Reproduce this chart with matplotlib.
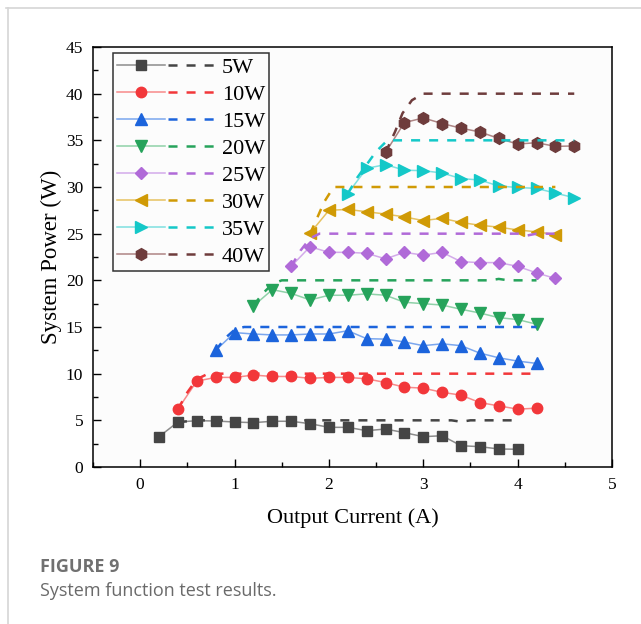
import matplotlib
matplotlib.use("Agg")
import matplotlib.pyplot as plt
from matplotlib.lines import Line2D
from matplotlib.legend_handler import HandlerTuple
from matplotlib.ticker import MultipleLocator

# measured system power (W) vs output current (A), one series per set point
labels = ["5W", "10W", "15W", "20W", "25W", "30W", "35W", "40W"]

p5_x = [0.2, 0.4, 0.6, 0.8, 1.0, 1.2, 1.4, 1.6, 1.8, 2.0, 2.2, 2.4, 2.6, 2.8, 3.0, 3.2, 3.4, 3.6, 3.8, 4.0]
p5_y = [3.25, 4.82, 4.96, 4.93, 4.82, 4.75, 4.9, 4.9, 4.64, 4.25, 4.25, 3.89, 4.07, 3.68, 3.25, 3.35, 2.28, 2.18, 1.93, 1.9]

p10_x = [0.4, 0.6, 0.8, 1.0, 1.2, 1.4, 1.6, 1.8, 2.0, 2.2, 2.4, 2.6, 2.8, 3.0, 3.2, 3.4, 3.6, 3.8, 4.0, 4.2]
p10_y = [6.2, 9.2, 9.6, 9.6, 9.85, 9.7, 9.7, 9.5, 9.6, 9.6, 9.45, 9.05, 8.55, 8.45, 8.0, 7.7, 6.9, 6.55, 6.2, 6.3]

p15_x = [0.8, 1.0, 1.2, 1.4, 1.6, 1.8, 2.0, 2.2, 2.4, 2.6, 2.8, 3.0, 3.2, 3.4, 3.6, 3.8, 4.0, 4.2]
p15_y = [12.5, 14.4, 14.25, 14.15, 14.15, 14.25, 14.25, 14.6, 13.75, 13.7, 13.4, 13.0, 13.2, 13.0, 12.2, 11.7, 11.35, 11.1]

p20_x = [1.2, 1.4, 1.6, 1.8, 2.0, 2.2, 2.4, 2.6, 2.8, 3.0, 3.2, 3.4, 3.6, 3.8, 4.0, 4.2]
p20_y = [17.25, 19.0, 18.6, 17.9, 18.4, 18.4, 18.55, 18.4, 17.65, 17.5, 17.35, 16.9, 16.5, 16.0, 15.8, 15.3]

p25_x = [1.6, 1.8, 2.0, 2.2, 2.4, 2.6, 2.8, 3.0, 3.2, 3.4, 3.6, 3.8, 4.0, 4.2, 4.4]
p25_y = [21.5, 23.6, 23.0, 23.0, 22.9, 22.3, 23.0, 22.7, 23.0, 22.0, 21.9, 21.9, 21.5, 20.8, 20.2]

p30_x = [1.8, 2.0, 2.2, 2.4, 2.6, 2.8, 3.0, 3.2, 3.4, 3.6, 3.8, 4.0, 4.2, 4.4]
p30_y = [25.05, 27.5, 27.6, 27.35, 27.1, 26.8, 26.4, 26.65, 26.2, 25.9, 25.7, 25.4, 25.2, 24.9]

p35_x = [2.2, 2.4, 2.6, 2.8, 3.0, 3.2, 3.4, 3.6, 3.8, 4.0, 4.2, 4.4, 4.6]
p35_y = [29.3, 32.0, 32.4, 31.8, 31.75, 31.5, 30.9, 30.75, 30.1, 29.95, 29.85, 29.35, 28.85]

p40_x = [2.6, 2.8, 3.0, 3.2, 3.4, 3.6, 3.8, 4.0, 4.2, 4.4, 4.6]
p40_y = [33.7, 36.9, 37.4, 36.8, 36.3, 35.9, 35.2, 34.6, 34.75, 34.35, 34.4]

# reference (set point) curves, dashed
r5_x = [0.4, 0.6, 3.3, 3.4, 3.5, 4.0]
r5_y = [4.8, 5.0, 5.0, 4.85, 5.0, 5.0]
r10_x = [0.4, 0.5, 0.6, 0.7, 0.8, 4.2]
r10_y = [6.2, 8.0, 9.4, 9.9, 10.0, 10.0]
r15_x = [0.8, 0.9, 1.0, 1.1, 4.2]
r15_y = [12.5, 13.8, 14.7, 15.0, 15.0]
r20_x = [1.2, 1.3, 1.4, 1.5, 3.7, 3.8, 3.9, 4.2]
r20_y = [17.3, 18.6, 19.6, 20.0, 20.0, 20.15, 20.0, 20.0]
r25_x = [1.6, 1.7, 1.8, 1.9, 4.0, 4.1, 4.2, 4.4]
r25_y = [21.5, 23.2, 24.5, 25.0, 25.0, 24.8, 25.0, 25.0]
r30_x = [1.8, 1.85, 1.95, 2.05, 4.4]
r30_y = [25.0, 26.1, 28.4, 30.0, 30.0]
r35_x = [2.2, 2.3, 2.5, 2.62, 4.6]
r35_y = [29.3, 31.0, 33.8, 35.0, 35.0]
r40_x = [2.6, 2.7, 2.78, 2.88, 3.0, 4.6]
r40_y = [33.7, 35.9, 37.9, 39.3, 40.0, 40.0]

meas_x = [p5_x, p10_x, p15_x, p20_x, p25_x, p30_x, p35_x, p40_x]
meas_y = [p5_y, p10_y, p15_y, p20_y, p25_y, p30_y, p35_y, p40_y]
ref_x = [r5_x, r10_x, r15_x, r20_x, r25_x, r30_x, r35_x, r40_x]
ref_y = [r5_y, r10_y, r15_y, r20_y, r25_y, r30_y, r35_y, r40_y]

colors = ["#454545", "#f2373a", "#1c64dc", "#26a35b", "#b06ad8", "#d09a05", "#14c8c8", "#6e3c3c"]
light = ["#8c8c8c", "#f88a8a", "#7aa6ee", "#8fd1a8", "#d3aaea", "#e6c260", "#7ee0e0", "#ae8585"]
markers = ["s", "o", "^", "v", "D", "<", ">", "h"]
msizes = [6.5, 7.5, 8, 8, 6.5, 8, 8, 8.5]

plt.rcParams['font.family'] = ['Liberation Serif', 'DejaVu Serif']

fig = plt.figure(figsize=(6.41, 6.24), dpi=100)
ax = fig.add_axes([93 / 641, 1 - 467 / 624, 519 / 641, 420 / 624])
ax.set_facecolor("#fcfcfc")

dash = (6.5 / 1.8, 6.5 / 1.8)
handles = []
for i in range(len(labels)):
    solid, = ax.plot(meas_x[i], meas_y[i], color=light[i], lw=1.1, marker=markers[i],
                     ms=msizes[i], mfc=colors[i], mec=colors[i], zorder=2)
    dashed, = ax.plot(ref_x[i], ref_y[i], color=colors[i], lw=1.8, dashes=dash, zorder=3)
    handles.append((solid, dashed))

ax.set_xlim(-0.5, 5)
ax.set_ylim(0, 45)
ax.xaxis.set_major_locator(MultipleLocator(1))
ax.xaxis.set_minor_locator(MultipleLocator(0.5))
ax.yaxis.set_major_locator(MultipleLocator(5))
ax.yaxis.set_minor_locator(MultipleLocator(2.5))
ax.tick_params(which="both", direction="in", top=False, right=False, labelsize=12.5, color="black")
ax.tick_params(which="major", length=6, width=1, pad=7)
ax.tick_params(which="minor", length=3.5, width=1)
for s in ax.spines.values():
    s.set_linewidth(1.1)

ax.set_xlabel("Output Current (A)", fontsize=16, labelpad=11)
ax.set_ylabel("System Power (W)", fontsize=16.5, labelpad=3)

leg = ax.legend(handles, labels, handler_map={tuple: HandlerTuple(ndivide=None, pad=0.15)},
                loc="upper left", bbox_to_anchor=(0.038, 0.986), fontsize=16,
                handlelength=4.45, handletextpad=0.25, labelspacing=0.29,
                borderpad=0.2, borderaxespad=0, fancybox=False, framealpha=1,
                edgecolor="#333333", facecolor="#fcfcfc")
leg.get_frame().set_linewidth(1.1)

# page frame and caption
fig.add_artist(Line2D([6 / 641, 1], [1 - 7.5 / 624] * 2, color="#d6d6d6", lw=1.2, transform=fig.transFigure))
fig.add_artist(Line2D([7.5 / 641] * 2, [0, 1 - 7.5 / 624], color="#d6d6d6", lw=1.2, transform=fig.transFigure))
fig.text(40 / 641, 1 - 572.5 / 624, "FIGURE 9", fontsize=13, fontweight="bold",
         color="#707070", family="Open Sans", va="baseline")
fig.text(40 / 641, 1 - 596 / 624, "System function test results.", fontsize=13,
         color="#6a6a6a", family="Open Sans", va="baseline")

fig.savefig("out.png", dpi=100)
